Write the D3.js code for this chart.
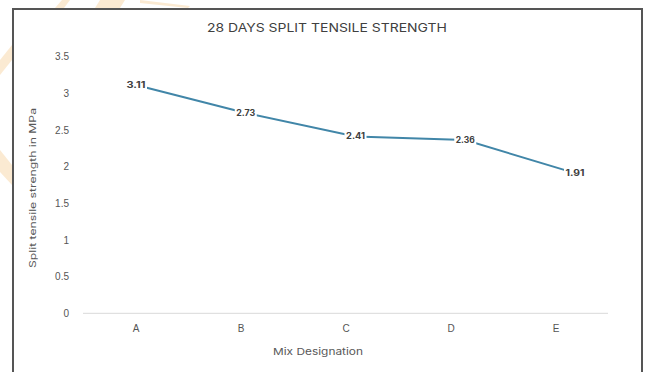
<!DOCTYPE html>
<html>
<head>
<meta charset="utf-8">
<script src="https://cdn.jsdelivr.net/npm/d3@7"></script>
<style>
	body { margin: 0; background: #fff; }
	svg { display: block; font-family: Inter, "Liberation Sans", sans-serif; }
</style>
</head>
<body>
<svg id="chart" width="646" height="372"></svg>
<script>
// mix designations and 28 day split tensile strength (MPa)
var mixes = ['A', 'B', 'C', 'D', 'E'];
var strength = [3.11, 2.73, 2.41, 2.36, 1.91];
var yTicks = [0, 0.5, 1, 1.5, 2, 2.5, 3, 3.5];

var svg = d3.select('#chart');

// faint watermark bits outside the frame
var wm = svg.append('g').attr('fill', '#fbe6c8').attr('opacity', 0.8);
wm.append('path').attr('d', 'M0,60 L12,45 L12,60 L0,75 Z');
wm.append('path').attr('d', 'M0,150 L12,165 L12,185 L0,172 Z');
wm.append('path').attr('d', 'M55,8 L62,0 L70,0 L64,8 Z');
wm.append('path').attr('d', 'M95,8 L100,0 L125,0 L120,8 Z');
wm.append('path').attr('d', 'M140,0 L190,6 L188,8 L140,3 Z');

// frame (bottom edge is cut off in the source)
svg.append('path')
	.attr('d', 'M13,372 L13,9 L642,9 L642,372')
	.attr('fill', 'none')
	.attr('stroke', '#555')
	.attr('stroke-width', 2);

var x = d3.scalePoint().domain(mixes).range([135.5, 555.5]);
// the line/labels sit slightly stretched vs the tick labels in the source
var xLine = d3.scalePoint().domain(mixes).range([136, 575]);
var y = d3.scaleLinear().domain([0, 3.5]).range([313.3, 56.4]);

// title
svg.append('text')
	.attr('x', 327).attr('y', 32)
	.attr('text-anchor', 'middle')
	.attr('font-size', 11.5)
	.attr('fill', '#404040')
	.attr('textLength', 240)
	.attr('lengthAdjust', 'spacingAndGlyphs')
	.text('28 DAYS SPLIT TENSILE STRENGTH');

// y axis (labels only)
var yAxis = d3.axisLeft(y).tickValues(yTicks).tickSize(0).tickPadding(0)
	.tickFormat(function (d) { return d; });
var gy = svg.append('g').attr('transform', 'translate(69,0)').call(yAxis);
gy.select('.domain').remove();
gy.selectAll('text').attr('font-size', 10).attr('fill', '#555').attr('font-family', null);

// x axis baseline + labels
svg.append('line')
	.attr('x1', 83).attr('x2', 608)
	.attr('y1', y(0)).attr('y2', y(0))
	.attr('stroke', '#d9d9d9').attr('stroke-width', 1);

var xAxis = d3.axisBottom(x).tickSize(0).tickPadding(0);
var gx = svg.append('g').attr('transform', 'translate(0,325)').call(xAxis);
gx.select('.domain').remove();
gx.selectAll('text').attr('font-size', 10).attr('fill', '#555').attr('font-family', null);

// axis titles
svg.append('text')
	.attr('x', 318).attr('y', 355)
	.attr('text-anchor', 'middle')
	.attr('font-size', 9.5)
	.attr('fill', '#595959')
	.attr('textLength', 90)
	.attr('lengthAdjust', 'spacingAndGlyphs')
	.text('Mix Designation');

svg.append('text')
	.attr('transform', 'translate(36,188) rotate(-90)')
	.attr('text-anchor', 'middle')
	.attr('font-size', 9)
	.attr('fill', '#595959')
	.attr('textLength', 160)
	.attr('lengthAdjust', 'spacingAndGlyphs')
	.text('Split tensile strength in MPa');

// line
var line = d3.line()
	.x(function (d, i) { return xLine(mixes[i]); })
	.y(function (d) { return y(d); });

svg.append('path')
	.datum(strength)
	.attr('d', line)
	.attr('fill', 'none')
	.attr('stroke', '#4186a8')
	.attr('stroke-width', 2);

// data labels with white box behind
var lab = svg.selectAll('g.lab')
	.data(strength)
	.enter()
	.append('g')
		.attr('class', 'lab')
		.attr('transform', function (d, i) {
			return 'translate(' + xLine(mixes[i]) + ',' + y(d) + ')';
		});

lab.append('rect')
	.attr('x', -11).attr('y', -5)
	.attr('width', 22).attr('height', 10)
	.attr('fill', '#fff');

lab.append('text')
	.attr('text-anchor', 'middle')
	.attr('dy', '0.35em')
	.attr('font-size', 8.5)
	.attr('font-weight', 'bold')
	.attr('fill', '#404040')
	.attr('textLength', 19)
	.attr('lengthAdjust', 'spacingAndGlyphs')
	.text(function (d) { return d.toFixed(2); });
</script>
</body>
</html>
